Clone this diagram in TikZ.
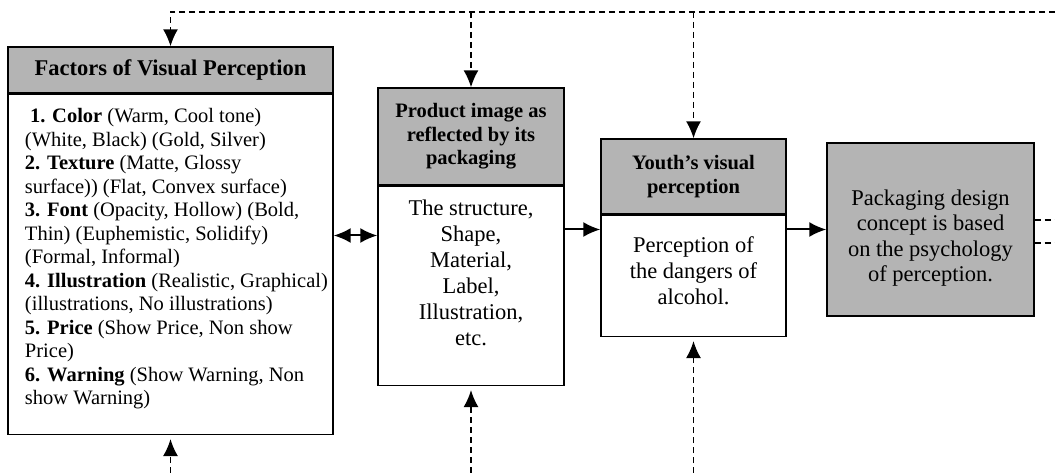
\documentclass[tikz,border=0pt]{standalone}
\usepackage{fontspec}
\setmainfont{Liberation Serif}
\usetikzlibrary{positioning,arrows.meta}
\definecolor{headgray}{RGB}{180,180,180}

\begin{document}
\begin{tikzpicture}[
x=1pt,y=-1pt,
head/.style={
  draw,
  fill=headgray,
  line width=1.4pt,
  align=center,
  inner sep=0pt,
  font=\fontsize{20.5}{23.5}\selectfont\bfseries
},
body/.style={
  draw,
  fill=white,
  line width=1.4pt,
  align=center,
  inner sep=0pt,
  font=\fontsize{22.5}{26}\selectfont
},
arr/.style={
  line width=2pt,
  -{Latex[length=17pt,width=15pt]}
},
both/.style={
  line width=2pt,
  {Latex[length=17pt,width=15pt]}-{Latex[length=17pt,width=15pt]}
},
feed/.style={
  arr,
  line width=1.6pt,
  dash pattern=on 6pt off 4pt
},
dashline/.style={
  line width=1.3pt,
  dash pattern=on 6pt off 4pt
}
]
\useasboundingbox (0,0) rectangle (1055,473);

% factors
\node[head,minimum width=325pt,minimum height=46pt,
  font=\fontsize{22.5}{25}\selectfont\bfseries] (fac) at (170.5,70)
  {Factors of Visual Perception};
\node[body,below=0pt of fac,minimum width=325pt,minimum height=340pt,
  font=\fontsize{20.5}{23.5}\selectfont] (facb)
  {\parbox[c][312pt][t]{316pt}{\raggedright\leftskip=12.5pt
  \hspace*{5pt}\textbf{1. Color} (Warm, Cool tone)\\
  (White, Black) (Gold, Silver)\\
  \textbf{2. Texture} (Matte, Glossy\\
  surface)) (Flat, Convex surface)\\
  \textbf{3. Font} (Opacity, Hollow) (Bold,\\
  Thin) (Euphemistic, Solidify)\\
  (Formal, Informal)\\
  \textbf{4. Illustration} (Realistic, Graphical)\\
  (illustrations, No illustrations)\\
  \textbf{5. Price} (Show Price, Non show\\
  Price)\\
  \textbf{6. Warning} (Show Warning, Non\\
  show Warning)}};

% product image
\node[head,minimum width=186pt,minimum height=97pt] (prod) at (471,136.5)
  {Product image as\\reflected by its\\packaging};
\node[body,below=0pt of prod,minimum width=186pt,minimum height=199pt] (prodb)
  {\parbox[c][172pt][t]{180pt}{\centering
  The structure,\\Shape,\\Material,\\Label,\\Illustration,\\etc.}};

% youth
\node[head,minimum width=185pt,minimum height=75pt] (youth) at (693.5,176.5)
  {Youth’s visual\\perception};
\node[body,below=0pt of youth,minimum width=185pt,minimum height=121pt] (youthb)
  {\parbox[c][78pt][t]{180pt}{\centering
  Perception of\\the dangers of\\alcohol.}};

% concept
\node[head,minimum width=207pt,minimum height=173pt,
  font=\fontsize{22.5}{25.5}\selectfont] (concept) at (930.5,229.5)
  {\parbox[c][80pt][t]{200pt}{\centering
  Packaging design\\concept is based\\on the psychology\\of perception.}};

% main flow
\draw[both] ([yshift=-6pt]facb.east |- concept.west) -- ([yshift=-6pt]prodb.west |- concept.west);
\draw[arr] (prodb.east |- concept.west) -- (youthb.west |- concept.west);
\draw[arr] (youthb.east |- concept.west) -- (concept.west);

% feedback
\coordinate (topR) at (1055,12);
\coordinate (botL) at (0,473);
\draw[feed] (topR) -- (topR -| fac.north) -- (fac.north);
\draw[feed] (topR -| prod.north) -- (prod.north);
\draw[feed] (topR -| youth.north) -- (youth.north);
\draw[feed,shorten >=4pt] (botL -| facb.south) -- (facb.south);
\draw[feed,shorten >=4pt] (botL -| prodb.south) -- (prodb.south);
\draw[feed,shorten >=4pt] (botL -| youthb.south) -- (youthb.south);
\draw[dashline] ([yshift=9.5pt]concept.east) -- ([yshift=9.5pt]concept.east -| topR);
\draw[dashline] ([yshift=-13.5pt]concept.east) -- ([yshift=-13.5pt]concept.east -| topR);
\end{tikzpicture}
\end{document}
